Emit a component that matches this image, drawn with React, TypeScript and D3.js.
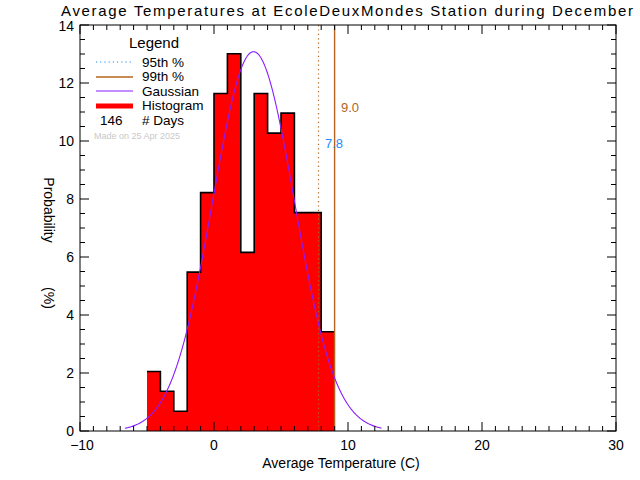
import React from "react";
import * as d3 from "d3";

const binStarts = [-5, -4, -3, -2, -1, 0, 1, 2, 3, 4, 5, 6, 7, 8];
const binPercent = [2.05, 1.37, 0.68, 5.48, 8.22, 11.64, 13.01, 6.16, 11.64, 10.27, 10.96, 7.53, 7.53, 3.42];
const binWidth = 1;
const gaussMean = 2.95;
const gaussSigma = 3.05;
const gaussRange = [-6.65, 12.5];
const p95 = 7.8;
const p99 = 9.0;
const nDays = 146;
const xTicks = [-10, 0, 10, 20, 30];
const yTicks = [0, 2, 4, 6, 8, 10, 12, 14];

const W = 640, H = 480;
const L = 80, R = 616, T = 25, B = 431;
const FONT = "'Liberation Sans', 'DejaVu Sans', sans-serif";
const C99 = "#b4641e";
const C95 = "#1e8cff";
const CG = "#8a1cff";

export default function App() {
  const x = d3.scaleLinear().domain([-10, 30]).range([L, R]);
  const y = d3.scaleLinear().domain([0, 14]).range([B, T]);

  const stepPts: [number, number][] = [];
  binStarts.forEach((s, i) => {
    stepPts.push([s, binPercent[i]]);
    stepPts.push([s + binWidth, binPercent[i]]);
  });
  const stepLine = d3.line<[number, number]>().x(d => x(d[0])).y(d => y(d[1]));
  const stepArea = d3.area<[number, number]>().x(d => x(d[0])).y0(y(0)).y1(d => y(d[1]));

  const peak = (100 * binWidth) / (gaussSigma * Math.sqrt(2 * Math.PI));
  const gx = d3.range(gaussRange[0], gaussRange[1] + 0.001, 0.05);
  const gLine = d3.line<number>()
    .x(d => x(d))
    .y(d => y(peak * Math.exp(-((d - gaussMean) ** 2) / (2 * gaussSigma ** 2))));

  const xMinor = d3.range(-10, 30.001, 1);
  const yMinor = d3.range(0, 14.001, 0.5);

  return (
    <svg width={W} height={H} style={{ position: "absolute", left: 0, top: 0, background: "#fff" }}
      fontFamily={FONT}>
      <rect x={0} y={0} width={W} height={H} fill="#fff" />
      <text x={347} y={16} fontSize={15} textAnchor="middle" textLength={572} lengthAdjust="spacing">
        Average Temperatures at EcoleDeuxMondes Station during December
      </text>

      {/* histogram */}
      <path d={stepArea(stepPts) || ""} fill="#ff0000" stroke="none" />
      <path d={stepLine(stepPts) || ""} fill="none" stroke="#000" strokeWidth={1.6} />

      {/* percentile lines */}
      <line x1={x(p95)} x2={x(p95)} y1={T} y2={B} stroke={C99} strokeWidth={1.2} strokeDasharray="1.2,3.2" />
      <line x1={x(p99)} x2={x(p99)} y1={T} y2={B} stroke={C99} strokeWidth={1.4} />

      {/* gaussian */}
      <path d={gLine(gx) || ""} fill="none" stroke={CG} strokeWidth={1.1} />

      {/* frame */}
      <rect x={L} y={T} width={R - L} height={B - T} fill="none" stroke="#000" strokeWidth={1} />

      {/* x ticks */}
      {xMinor.map((v, i) => {
        const major = xTicks.includes(v);
        const len = major ? 9 : 5;
        return (
          <g key={"xt" + i} stroke="#000" strokeWidth={1}>
            <line x1={x(v)} x2={x(v)} y1={B} y2={B - len} />
            <line x1={x(v)} x2={x(v)} y1={T} y2={T + len} />
          </g>
        );
      })}
      {xTicks.map(v => (
        <text key={"xl" + v} x={x(v) + (v < 0 ? 2 : 0)} y={450} fontSize={14} textAnchor="middle">
          {v < 0 ? "\u2212" + Math.abs(v) : v}
        </text>
      ))}

      {/* y ticks */}
      {yMinor.map((v, i) => {
        const major = yTicks.includes(v);
        const len = major ? 9 : 5;
        return (
          <g key={"yt" + i} stroke="#000" strokeWidth={1}>
            <line x1={L} x2={L + len} y1={y(v)} y2={y(v)} />
            <line x1={R} x2={R - len} y1={y(v)} y2={y(v)} />
          </g>
        );
      })}
      {yTicks.map(v => (
        <text key={"yl" + v} x={74} y={y(v) + (v === 14 ? 6 : 5)} fontSize={14} textAnchor="end">{v}</text>
      ))}

      <text x={341} y={468} fontSize={14} textAnchor="middle">Average Temperature (C)</text>
      <text transform="translate(44,210) rotate(90)" fontSize={14} textAnchor="middle">Probability</text>
      <text transform="translate(44,298) rotate(90)" fontSize={14} textAnchor="middle">(%)</text>

      {/* percentile labels */}
      <text x={341} y={112} fontSize={13} fill={C99}>{p99.toFixed(1)}</text>
      <text x={325} y={148} fontSize={13} fill={C95}>{p95.toFixed(1)}</text>

      {/* legend */}
      <text x={129} y={48} fontSize={15}>Legend</text>
      <line x1={96} x2={133} y1={62} y2={62} stroke={C95} strokeWidth={1.2} strokeDasharray="1.2,3" />
      <text x={142} y={66.5} fontSize={13.5}>95th  %</text>
      <line x1={96} x2={133} y1={77} y2={77} stroke={C99} strokeWidth={1.4} />
      <text x={142} y={81} fontSize={13.5}>99th  %</text>
      <line x1={96} x2={133} y1={91} y2={91} stroke={CG} strokeWidth={1.2} />
      <text x={142} y={95.5} fontSize={13.5}>Gaussian</text>
      <line x1={96} x2={133} y1={106} y2={106} stroke="#ff0000" strokeWidth={5} />
      <text x={142} y={110} fontSize={13.5}>Histogram</text>
      <text x={100} y={125} fontSize={13.5}>{nDays}</text>
      <text x={142} y={125} fontSize={13.5}>#  Days</text>
      <text x={94} y={139} fontSize={9} fill="#c8c8c8">Made on 25 Apr 2025</text>
    </svg>
  );
}
